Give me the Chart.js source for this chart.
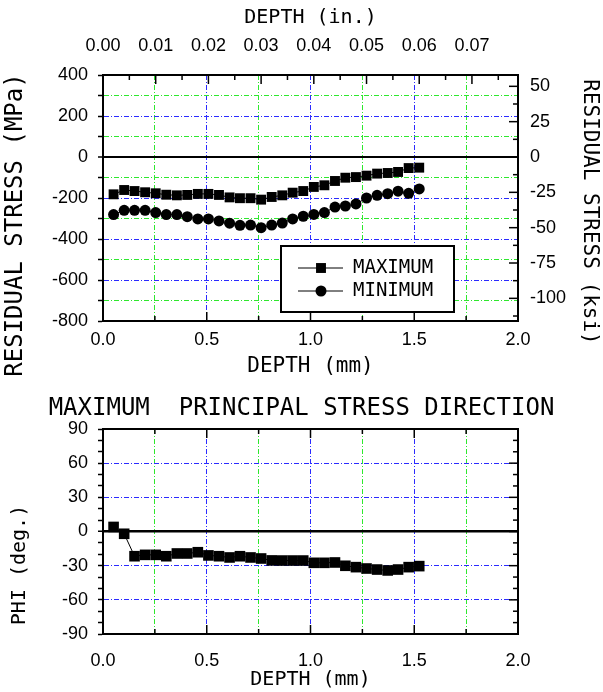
<!DOCTYPE html>
<html>
<head>
<meta charset="utf-8">
<script src="https://cdn.jsdelivr.net/npm/chart.js"></script>
<style>
    body { margin: 0; background: #fff; }
    #wrap { position: relative; width: 603px; height: 692px; }
    canvas { position: absolute; left: 0; }
    #stressChart { top: 0; }
    #phiChart { top: 385px; }
</style>
</head>
<body>
<div id="wrap">
    <canvas id="stressChart" width="603" height="385"></canvas>
    <canvas id="phiChart" width="603" height="307"></canvas>
</div>
<script>
// depth of each measurement (mm)
const depthMm = [0.051, 0.102, 0.152, 0.203, 0.254, 0.305, 0.356, 0.406, 0.457, 0.508,
                 0.559, 0.610, 0.660, 0.711, 0.762, 0.813, 0.864, 0.914, 0.965, 1.016,
                 1.067, 1.118, 1.168, 1.219, 1.270, 1.321, 1.372, 1.422, 1.473, 1.524];

// residual stress (MPa)
const maxStress = [-182, -161, -166, -172, -177, -184, -187, -185, -180, -180,
                   -185, -197, -201, -201, -208, -195, -187, -174, -166, -146,
                   -138, -117, -101, -98, -91, -81, -78, -73, -54, -52];
const minStress = [-281, -260, -260, -260, -271, -281, -281, -291, -302, -302,
                   -312, -323, -333, -332, -345, -332, -322, -302, -289, -280,
                   -271, -244, -239, -229, -200, -187, -179, -167, -177, -156];

// maximum principal stress direction (deg.)
const phiDeg = [4, -2, -21.7, -20.5, -20.5, -21.7, -19.3, -19.3, -18.2, -21,
                -21.7, -22.8, -21.7, -22.8, -23.7, -25.4, -25.5, -25.5, -25.5, -27.5,
                -27.5, -27.2, -30.1, -31.3, -32.5, -33.4, -34.2, -33.4, -31.3, -30.4];

// ticks and their labels ('' = minor tick)
const mmTicks = [0, 0.25, 0.5, 0.75, 1, 1.25, 1.5, 1.75, 2];
const mmLabels = ['0.0', '', '0.5', '', '1.0', '', '1.5', '', '2.0'];
const inchTicks = [0, 0.005, 0.01, 0.015, 0.02, 0.025, 0.03, 0.035,
                   0.04, 0.045, 0.05, 0.055, 0.06, 0.065, 0.07, 0.075];
const inchLabels = ['0.00', '', '0.01', '', '0.02', '', '0.03', '',
                    '0.04', '', '0.05', '', '0.06', '', '0.07', ''];
const mpaTicks = [-800, -700, -600, -500, -400, -300, -200, -100, 0, 100, 200, 300, 400];
const mpaLabels = ['-800', '', '-600', '', '-400', '', '-200', '', '0', '', '200', '', '400'];
const ksiTicks = [-112.5, -100, -87.5, -75, -62.5, -50, -37.5, -25, -12.5, 0, 12.5, 25, 37.5, 50];
const ksiLabels = ['', '-100', '', '-75', '', '-50', '', '-25', '', '0', '', '25', '', '50'];
const degTicks = [-90, -80, -70, -60, -50, -40, -30, -20, -10, 0, 10, 20, 30, 40, 50, 60, 70, 80, 90];
const degLabels = ['-90', '', '', '-60', '', '', '-30', '', '', '0', '', '', '30', '', '', '60', '', '', '90'];

const MPA_PER_KSI = 6.894757;
const MM_PER_IN = 25.4;
const GREEN = '#2ee82e';
const BLUE = '#2b2bff';
const DASH = [5, 2, 1, 2];
const MONO = 'DejaVu Sans Mono';
const tickFont = { family: 'Liberation Sans', size: 18 };

const setTicks = values => scale => { scale.ticks = values.map(v => ({ value: v })); };
const clear = 'rgba(0,0,0,0)';

// grid colour: edges hidden, labelled ticks blue, others green, zero black
function gridColor(labels, zeroBlack) {
    return c => {
        const i = c.index;
        if (i === 0 || i === labels.length - 1) return clear;
        if (zeroBlack && c.tick.value === 0) return '#000';
        return labels[i] !== '' ? BLUE : GREEN;
    };
}
const gridDash = c => (c.tick && c.tick.value !== 0 ? DASH : []);
const frame = { color: '#000', width: 2, dash: gridDash };

// tick marks drawn into the plot area on bottom/top/right axes
function inwardTicks(spec) {
    return {
        id: 'inwardTicks',
        afterDatasetsDraw(chart) {
            const { ctx, chartArea: a } = chart;
            ctx.save();
            ctx.strokeStyle = '#000';
            ctx.lineWidth = 1.5;
            spec.forEach(s => {
                const scale = chart.scales[s.id];
                scale.ticks.forEach((t, i) => {
                    const len = s.labels[i] !== '' ? 9 : 5;
                    const p = scale.getPixelForValue(t.value);
                    ctx.beginPath();
                    if (scale.position === 'top') { ctx.moveTo(p, a.top); ctx.lineTo(p, a.top + len); }
                    else if (scale.position === 'bottom') { ctx.moveTo(p, a.bottom); ctx.lineTo(p, a.bottom - len); }
                    else { ctx.moveTo(a.right, p); ctx.lineTo(a.right - len, p); }
                    ctx.stroke();
                });
            });
            ctx.restore();
        }
    };
}

// rotated axis titles
function sideTitles(items) {
    return {
        id: 'sideTitles',
        afterDraw(chart) {
            const ctx = chart.ctx;
            items.forEach(t => {
                ctx.save();
                ctx.translate(t.x, t.y);
                ctx.rotate(t.rot);
                ctx.font = t.size + 'px "' + MONO + '"';
                ctx.fillStyle = '#000';
                ctx.textAlign = 'center';
                ctx.textBaseline = 'middle';
                ctx.fillText(t.text, 0, 0);
                ctx.restore();
            });
        }
    };
}

// boxed legend inside the plot
const boxLegend = {
    id: 'boxLegend',
    afterDraw(chart) {
        const ctx = chart.ctx;
        const x = 281, y = 246, w = 173, h = 66;
        ctx.save();
        ctx.fillStyle = '#fff';
        ctx.fillRect(x, y, w, h);
        ctx.strokeStyle = '#000';
        ctx.lineWidth = 2;
        ctx.strokeRect(x, y, w, h);
        chart.data.datasets.forEach((ds, i) => {
            const cy = y + 22 + i * 23;
            ctx.lineWidth = 1;
            ctx.beginPath();
            ctx.moveTo(x + 17, cy);
            ctx.lineTo(x + 62, cy);
            ctx.stroke();
            ctx.fillStyle = '#000';
            Chart.helpers.drawPoint(ctx, { pointStyle: ds.pointStyle, radius: ds.pointRadius, borderWidth: 0, rotation: 0 }, x + 40, cy);
            ctx.font = '19px "' + MONO + '"';
            ctx.textBaseline = 'middle';
            ctx.textAlign = 'left';
            ctx.fillText(ds.label, x + 72, cy);
        });
        ctx.restore();
    }
};

function series(values) {
    return depthMm.map((d, i) => ({ x: d, y: values[i] }));
}

const lineStyle = { borderColor: '#000', backgroundColor: '#000', borderWidth: 1, showLine: true, pointBorderWidth: 0 };

new Chart(document.getElementById('stressChart'), {
    type: 'scatter',
    data: {
        datasets: [
            { label: 'MAXIMUM', data: series(maxStress), pointStyle: 'rect', pointRadius: 7, ...lineStyle },
            { label: 'MINIMUM', data: series(minStress), pointStyle: 'circle', pointRadius: 5.5, ...lineStyle }
        ]
    },
    options: {
        responsive: false,
        animation: false,
        layout: { padding: 0 },
        plugins: { legend: { display: false }, tooltip: { enabled: false } },
        scales: {
            x: {
                type: 'linear', position: 'bottom', min: 0, max: 2,
                afterBuildTicks: setTicks(mmTicks),
                afterFit: s => { s.height = 64; },
                ticks: { autoSkip: false, maxRotation: 0, padding: 8, font: tickFont, color: '#000', callback: (v, i) => mmLabels[i] },
                grid: { drawTicks: false, color: gridColor(mmLabels, false), lineWidth: 1 },
                border: frame,
                title: { display: true, text: 'DEPTH (mm)', color: '#000', font: { family: MONO, size: 21 }, padding: { top: 0, bottom: 6 } }
            },
            x2: {
                type: 'linear', position: 'top', min: 0, max: 2 / MM_PER_IN,
                afterBuildTicks: setTicks(inchTicks),
                afterFit: s => { s.height = 75; },
                ticks: { autoSkip: false, maxRotation: 0, padding: 18, font: tickFont, color: '#000', callback: (v, i) => inchLabels[i] },
                grid: { drawOnChartArea: false, drawTicks: false },
                border: { color: '#000', width: 2 },
                title: { display: true, text: 'DEPTH (in.)', color: '#000', font: { family: MONO, size: 20 }, padding: { top: 6, bottom: 0 } }
            },
            y: {
                type: 'linear', position: 'left', min: -800, max: 400,
                afterBuildTicks: setTicks(mpaTicks),
                afterFit: s => { s.width = 103; },
                ticks: { autoSkip: false, padding: 10, font: tickFont, color: '#000', callback: (v, i) => mpaLabels[i] },
                grid: {
                    color: gridColor(mpaLabels, true),
                    lineWidth: c => (c.tick.value === 0 ? 2 : 1),
                    tickLength: 5, tickColor: '#000', tickWidth: 1.5
                },
                border: frame
            },
            y2: {
                type: 'linear', position: 'right', min: -800 / MPA_PER_KSI, max: 400 / MPA_PER_KSI,
                afterBuildTicks: setTicks(ksiTicks),
                afterFit: s => { s.width = 85; },
                ticks: { autoSkip: false, padding: 12, font: tickFont, color: '#000', callback: (v, i) => ksiLabels[i] },
                grid: { drawOnChartArea: false, drawTicks: false },
                border: { color: '#000', width: 2 }
            }
        }
    },
    plugins: [
        inwardTicks([
            { id: 'x', labels: mmLabels },
            { id: 'x2', labels: inchLabels },
            { id: 'y2', labels: ksiLabels }
        ]),
        sideTitles([
            { text: 'RESIDUAL STRESS (MPa)', x: 16, y: 225, rot: -Math.PI / 2, size: 24 },
            { text: 'RESIDUAL STRESS (ksi)', x: 589, y: 212, rot: Math.PI / 2, size: 21 }
        ]),
        boxLegend
    ]
});

new Chart(document.getElementById('phiChart'), {
    type: 'scatter',
    data: {
        datasets: [
            { label: 'PHI', data: series(phiDeg), pointStyle: 'rect', pointRadius: 7.5, ...lineStyle }
        ]
    },
    options: {
        responsive: false,
        animation: false,
        layout: { padding: 0 },
        plugins: {
            legend: { display: false },
            tooltip: { enabled: false },
            title: {
                display: true, text: 'MAXIMUM  PRINCIPAL STRESS DIRECTION', color: '#000',
                font: { family: MONO, size: 24, weight: 'normal' }, padding: { top: 9, bottom: 0 }
            }
        },
        scales: {
            x: {
                type: 'linear', position: 'bottom', min: 0, max: 2,
                afterBuildTicks: setTicks(mmTicks),
                afterFit: s => { s.height = 58; },
                ticks: { autoSkip: false, maxRotation: 0, padding: 16, font: tickFont, color: '#000', callback: (v, i) => mmLabels[i] },
                grid: { drawTicks: false, color: gridColor(mmLabels, false), lineWidth: 1 },
                border: frame,
                title: { display: true, text: 'DEPTH (mm)', color: '#000', font: { family: MONO, size: 20 }, padding: { top: 0, bottom: 0 } }
            },
            x2: {
                type: 'linear', position: 'top', min: 0, max: 2,
                afterBuildTicks: setTicks(mmTicks),
                afterFit: s => { s.height = 6.2; },
                ticks: { display: false },
                grid: { drawOnChartArea: false, drawTicks: false },
                border: { color: '#000', width: 2 }
            },
            y: {
                type: 'linear', position: 'left', min: -90, max: 90,
                afterBuildTicks: setTicks(degTicks),
                afterFit: s => { s.width = 103; },
                ticks: { autoSkip: false, padding: 10, font: tickFont, color: '#000', callback: (v, i) => degLabels[i] },
                grid: {
                    color: c => {
                        const i = c.index;
                        if (i === 0 || i === degTicks.length - 1 || degLabels[i] === '') return clear;
                        return c.tick.value === 0 ? '#000' : BLUE;
                    },
                    lineWidth: c => (c.tick.value === 0 ? 2.5 : 1),
                    tickLength: 5, tickColor: '#000', tickWidth: 1.5
                },
                border: frame
            },
            y2: {
                type: 'linear', position: 'right', min: -90, max: 90,
                afterBuildTicks: setTicks(degTicks),
                afterFit: s => { s.width = 85; },
                ticks: { display: false },
                grid: { drawOnChartArea: false, drawTicks: false },
                border: { color: '#000', width: 2 }
            }
        }
    },
    plugins: [
        inwardTicks([
            { id: 'x', labels: mmLabels },
            { id: 'x2', labels: mmLabels },
            { id: 'y2', labels: degLabels }
        ]),
        sideTitles([
            { text: 'PHI (deg.)', x: 20, y: 180, rot: -Math.PI / 2, size: 20 }
        ])
    ]
});
</script>
</body>
</html>
